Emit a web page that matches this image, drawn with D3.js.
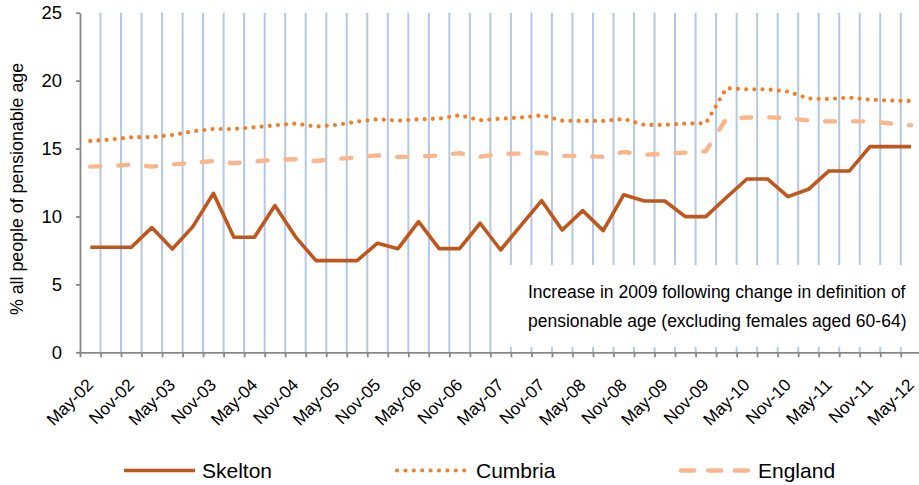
<!DOCTYPE html>
<html><head><meta charset="utf-8">
<script src="https://cdn.jsdelivr.net/npm/d3@7"></script>
<style>
body{margin:0;background:#fff}
svg{display:block}
text{font-family:"Liberation Sans",Arial,sans-serif;fill:#000}
</style>
</head><body>
<svg id="c" width="919" height="485"></svg>
<script>
const periods = ["May-02","Aug-02","Nov-02","Feb-03","May-03","Aug-03","Nov-03","Feb-04","May-04","Aug-04","Nov-04",
  "Feb-05","May-05","Aug-05","Nov-05","Feb-06","May-06","Aug-06","Nov-06","Feb-07","May-07","Aug-07","Nov-07",
  "Feb-08","May-08","Aug-08","Nov-08","Feb-09","May-09","Aug-09","Nov-09","Feb-10","May-10","Aug-10","Nov-10",
  "Feb-11","May-11","Aug-11","Nov-11","Feb-12","May-12"];
const tickLabels = ["May-02","Nov-02","May-03","Nov-03","May-04","Nov-04","May-05","Nov-05","May-06","Nov-06",
  "May-07","Nov-07","May-08","Nov-08","May-09","Nov-09","May-10","Nov-10","May-11","Nov-11","May-12"];
const skelton = [7.73,7.73,7.73,9.18,7.6,9.25,11.7,8.47,8.47,10.8,8.5,6.75,6.75,6.75,8.03,7.63,9.62,7.63,7.63,9.5,
  7.53,9.37,11.16,9.0,10.43,8.96,11.6,11.14,11.14,9.99,9.99,11.4,12.76,12.76,11.46,12.0,13.35,13.35,15.14,15.14,15.14];
const cumbria = [15.56,15.66,15.83,15.85,15.99,16.27,16.44,16.44,16.57,16.71,16.84,16.61,16.74,16.98,17.16,17.05,17.15,17.2,17.45,17.08,
  17.2,17.28,17.45,17.05,17.03,17.03,17.18,16.74,16.74,16.84,16.86,19.44,19.36,19.36,19.19,18.68,18.65,18.75,18.6,18.53,18.5];
const england = [13.67,13.7,13.82,13.67,13.82,13.96,14.08,13.92,14.04,14.18,14.21,14.08,14.23,14.35,14.5,14.38,14.4,14.5,14.66,14.4,
  14.6,14.63,14.68,14.46,14.46,14.38,14.75,14.53,14.63,14.7,14.8,17.2,17.28,17.3,17.25,17.06,17.0,17.0,17.0,16.84,16.71];
const yTicks = [0,5,10,15,20,25];
const seriesNames = ["Skelton","Cumbria","England"];
const yTitle = "% all people of pensionable age";
const annotation = ["Increase in 2009 following change in definition of","pensionable age (excluding females aged 60-64)"];

const svg = d3.select("#c");
const L = 80, R = 921.3, T = 12.7, B = 352.3;
const x = d3.scaleBand().domain(periods).range([L, R]).padding(0);
const xb = d3.scaleLinear().domain([0, periods.length]).range([L, R]);
const y = d3.scaleLinear().domain([0, 25]).range([B, T]);
const cx = p => x(p) + x.bandwidth() / 2;

// vertical gridlines at category boundaries
svg.append("g").selectAll("line").data(d3.range(1, periods.length + 1)).join("line")
  .attr("x1", d => xb(d)).attr("x2", d => xb(d)).attr("y1", T).attr("y2", B)
  .attr("stroke", "#B3C8E3").attr("stroke-width", 2);

// annotation background box (masks gridlines)
svg.append("rect").attr("x", 501).attr("y", 265).attr("width", 416).attr("height", 82).attr("fill", "#fff");
svg.append("g").selectAll("text").data(annotation).join("text")
  .attr("x", 528).attr("y", (d, i) => 297.5 + i * 29.5)
  .attr("font-size", 17.5).text(d => d);

// y axis
const ya = svg.append("g").attr("transform", `translate(${L},0)`)
  .call(d3.axisLeft(y).tickValues(yTicks).tickSize(4).tickPadding(14).tickSizeOuter(0));
ya.select(".domain").attr("stroke", "#878787").attr("stroke-width", 1.8);
ya.selectAll(".tick line").attr("stroke", "#878787").attr("stroke-width", 1.8);
ya.selectAll(".tick text").attr("font-size", 18.5).attr("font-family", '"Liberation Sans",Arial,sans-serif').attr("fill", "#000");

// x axis with boundary ticks
const xa = svg.append("g").attr("transform", `translate(0,${B})`)
  .call(d3.axisBottom(xb).tickValues(d3.range(0, periods.length + 1)).tickSize(5).tickFormat("").tickSizeOuter(0));
xa.select(".domain").attr("stroke", "#878787").attr("stroke-width", 1.8);
xa.selectAll(".tick line").attr("stroke", "#878787").attr("stroke-width", 1.8);

svg.append("g").selectAll("text").data(tickLabels).join("text")
  .attr("transform", d => `translate(${cx(d) + 4},386) rotate(-45)`)
  .attr("text-anchor", "end").attr("font-size", 17.2).text(d => d);

// y title
svg.append("text").attr("transform", "translate(23,189) rotate(-90)")
  .attr("text-anchor", "middle").attr("font-size", 17.8).text(yTitle);

// series
const styles = [
  {data: skelton, color: "#C0561B", width: 3.6, dash: null, cap: "butt"},
  {data: cumbria, color: "#F47E25", width: 4.2, dash: "0,8.2", cap: "round"},
  {data: england, color: "#F8B68A", width: 4.4, dash: "10,18", cap: "round"}
];
const line = d3.line().x((d, i) => cx(periods[i])).y(d => y(d));
[2, 1, 0].forEach(k => {
  const s = styles[k];
  svg.append("path").datum(s.data).attr("d", line).attr("fill", "none")
    .attr("stroke", s.color).attr("stroke-width", s.width)
    .attr("stroke-linejoin", "round").attr("stroke-linecap", s.cap)
    .attr("stroke-dasharray", s.dash);
});

// legend
const legX = [124, 397, 681];
const lg = svg.append("g").selectAll("g").data(seriesNames).join("g")
  .attr("transform", (d, i) => `translate(${legX[i]},470.5)`);
lg.append("line").attr("x1", 0).attr("x2", (d, i) => i === 0 ? 71 : 68).attr("y1", 0).attr("y2", 0)
  .attr("stroke", (d, i) => styles[i].color).attr("stroke-width", (d, i) => styles[i].width)
  .attr("stroke-linecap", (d, i) => styles[i].cap)
  .attr("stroke-dasharray", (d, i) => i === 1 ? "0,8.4" : (i === 2 ? "13,14" : null));
lg.append("text").attr("x", (d, i) => i === 0 ? 78 : (i === 1 ? 79 : 77)).attr("y", 7.5)
  .attr("font-size", 21).text(d => d);
</script>
</body></html>
